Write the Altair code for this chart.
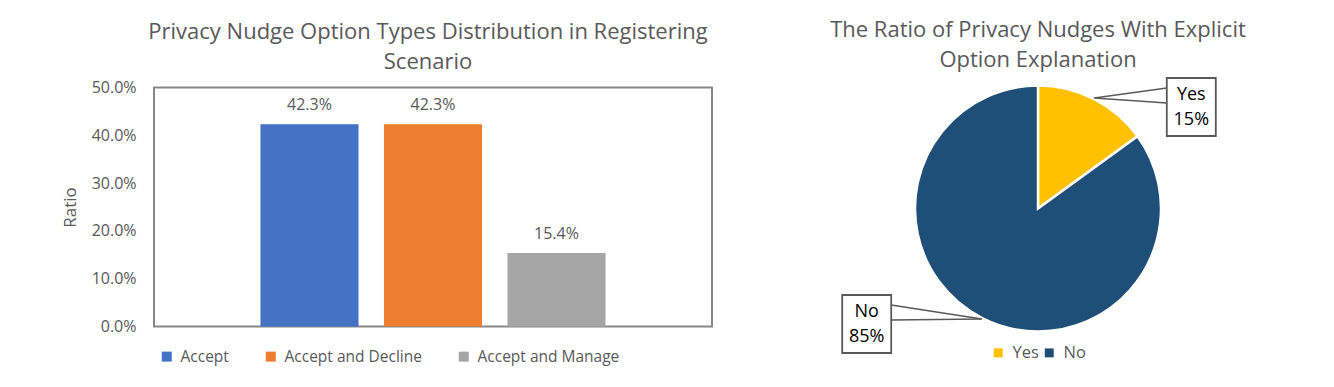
import math
import altair as alt
import pandas as pd

# ---------------- data ----------------
bar_categories = ["Accept", "Accept and Decline", "Accept and Manage"]
bar_values = [0.423, 0.423, 0.154]
bar_colors = ["#4472C4", "#ED7D31", "#A5A5A5"]
y_ticks = [0.0, 0.1, 0.2, 0.3, 0.4, 0.5]

pie_categories = ["Yes", "No"]
pie_values = [0.15, 0.85]
pie_colors = ["#FFC000", "#1F4E79"]

left_title = ["Privacy Nudge Option Types Distribution in Registering", "Scenario"]
right_title = ["The Ratio of Privacy Nudges With Explicit", "Option Explanation"]

# ---------------- style / layout ----------------
FONT = "Open Sans"
GREY = "#595959"
FRAME = "#878787"

PIE_CX, PIE_CY, PIE_R = 325, 121, 123          # pie centre/radius in the right view
LEADER_R = 124
CALLOUT_OFFSET = {"Yes": (97, 9), "No": (-115, 5)}  # box centre relative to leader tip
BOX_W, BOX_H = 49, 58

# ---------------- bar chart ----------------
bar_df = pd.DataFrame({"Option": bar_categories, "Ratio": bar_values})

x_enc = alt.X("Option:N", sort=bar_categories, axis=None,
              scale=alt.Scale(paddingInner=0.206, paddingOuter=0.862))
y_enc = alt.Y("Ratio:Q", scale=alt.Scale(domain=[0, 0.5]),
              axis=alt.Axis(format=".1%", values=y_ticks, title="Ratio", grid=False,
                            domain=False, ticks=False, labelPadding=18,
                            labelFont=FONT, labelFontSize=16, labelColor=GREY,
                            titleFont=FONT, titleFontSize=17, titleColor=GREY,
                            titleFontWeight="normal", titlePadding=12))

bars = alt.Chart(bar_df).mark_bar().encode(
    x=x_enc,
    y=y_enc,
    color=alt.Color("Option:N",
                    scale=alt.Scale(domain=bar_categories, range=bar_colors),
                    legend=alt.Legend(title=None, orient="none", direction="horizontal",
                                      legendX=5, legendY=261, symbolType="square",
                                      symbolSize=100, symbolStrokeWidth=0,
                                      labelFont=FONT, labelFontSize=15.5, labelColor=GREY,
                                      labelOffset=6, columnPadding=34)),
)
bar_labels = alt.Chart(bar_df).mark_text(dy=-19, font=FONT, fontSize=16, color=GREY).encode(
    x=alt.X("Option:N", sort=bar_categories, axis=None),
    y=alt.Y("Ratio:Q"),
    text=alt.Text("Ratio:Q", format=".1%"),
)

left = alt.layer(bars, bar_labels).properties(
    width=558, height=239,
    title=alt.TitleParams(left_title, font=FONT, fontSize=22, fontWeight="normal",
                          color=GREY, lineHeight=30, anchor="middle", dx=-5, offset=5.5),
    view=alt.ViewBackground(stroke=FRAME, strokeWidth=2),
)

# ---------------- pie chart ----------------
pie_df = pd.DataFrame({"Answer": pie_categories, "Share": pie_values,
                       "Rank": list(range(len(pie_categories)))})

arc = alt.Chart(pie_df).mark_arc(outerRadius=PIE_R, stroke="white", strokeWidth=2.5).encode(
    theta=alt.Theta("Share:Q", stack=True),
    order=alt.Order("Rank:Q"),
    color=alt.Color("Answer:N",
                    scale=alt.Scale(domain=pie_categories, range=pie_colors),
                    legend=alt.Legend(title=None, orient="none", direction="horizontal",
                                      legendX=277, legendY=257, symbolType="square",
                                      symbolSize=80, symbolStrokeWidth=0,
                                      labelFont=FONT, labelFontSize=16.5, labelColor=GREY,
                                      labelOffset=6, columnPadding=2)),
    x=alt.value(PIE_CX),
    y=alt.value(PIE_CY),
)

# callout geometry derived from the slice mid-angles
rows, leaders = [], []
cum = 0.0
for cat, v in zip(pie_categories, pie_values):
    mid = 2 * math.pi * (cum + v / 2)
    cum += v
    tx = PIE_CX + LEADER_R * math.sin(mid)
    ty = PIE_CY - LEADER_R * math.cos(mid)
    ox, oy = CALLOUT_OFFSET[cat]
    bx, by = tx + ox, ty + oy
    edge_x = bx - BOX_W / 2 if ox > 0 else bx + BOX_W / 2
    rows.append({"label": f"{cat}\n{round(v * 100)}%", "bx": bx, "by": by,
                 "x1": bx - BOX_W / 2, "x2": bx + BOX_W / 2,
                 "y1": by - BOX_H / 2, "y2": by + BOX_H / 2})
    for dyy in (-19, -4):
        leaders.append({"tx": tx, "ty": ty, "ex": edge_x, "ey": by + dyy})

call_df = pd.DataFrame(rows)
lead_df = pd.DataFrame(leaders)

lead = alt.Chart(lead_df).mark_rule(color=GREY, strokeWidth=1.5).encode(
    x=alt.X("tx:Q", scale=None), y=alt.Y("ty:Q", scale=None),
    x2="ex:Q", y2="ey:Q")
boxes = alt.Chart(call_df).mark_rect(fill="white", stroke=GREY, strokeWidth=1.8).encode(
    x=alt.X("x1:Q", scale=None), x2="x2:Q",
    y=alt.Y("y1:Q", scale=None), y2="y2:Q")
box_text = alt.Chart(call_df).mark_text(font=FONT, fontSize=18, color="#000000",
                                        lineBreak="\n", lineHeight=25, dy=-12).encode(
    x=alt.X("bx:Q", scale=None), y=alt.Y("by:Q", scale=None), text="label:N")

right = alt.layer(arc, lead, boxes, box_text).properties(
    width=600, height=239,
    title=alt.TitleParams(right_title, font=FONT, fontSize=22, fontWeight="normal",
                          color=GREY, lineHeight=30, anchor="middle", dx=25, offset=5.5),
    view=alt.ViewBackground(stroke=None),
)

chart = alt.hconcat(left, right, spacing=0).configure(
    padding={"left": 52, "top": 10.5, "right": 5, "bottom": 5},
    background="white",
).resolve_scale(color="independent")

chart.save("out.html", embed_options={"renderer": "svg", "actions": False})
